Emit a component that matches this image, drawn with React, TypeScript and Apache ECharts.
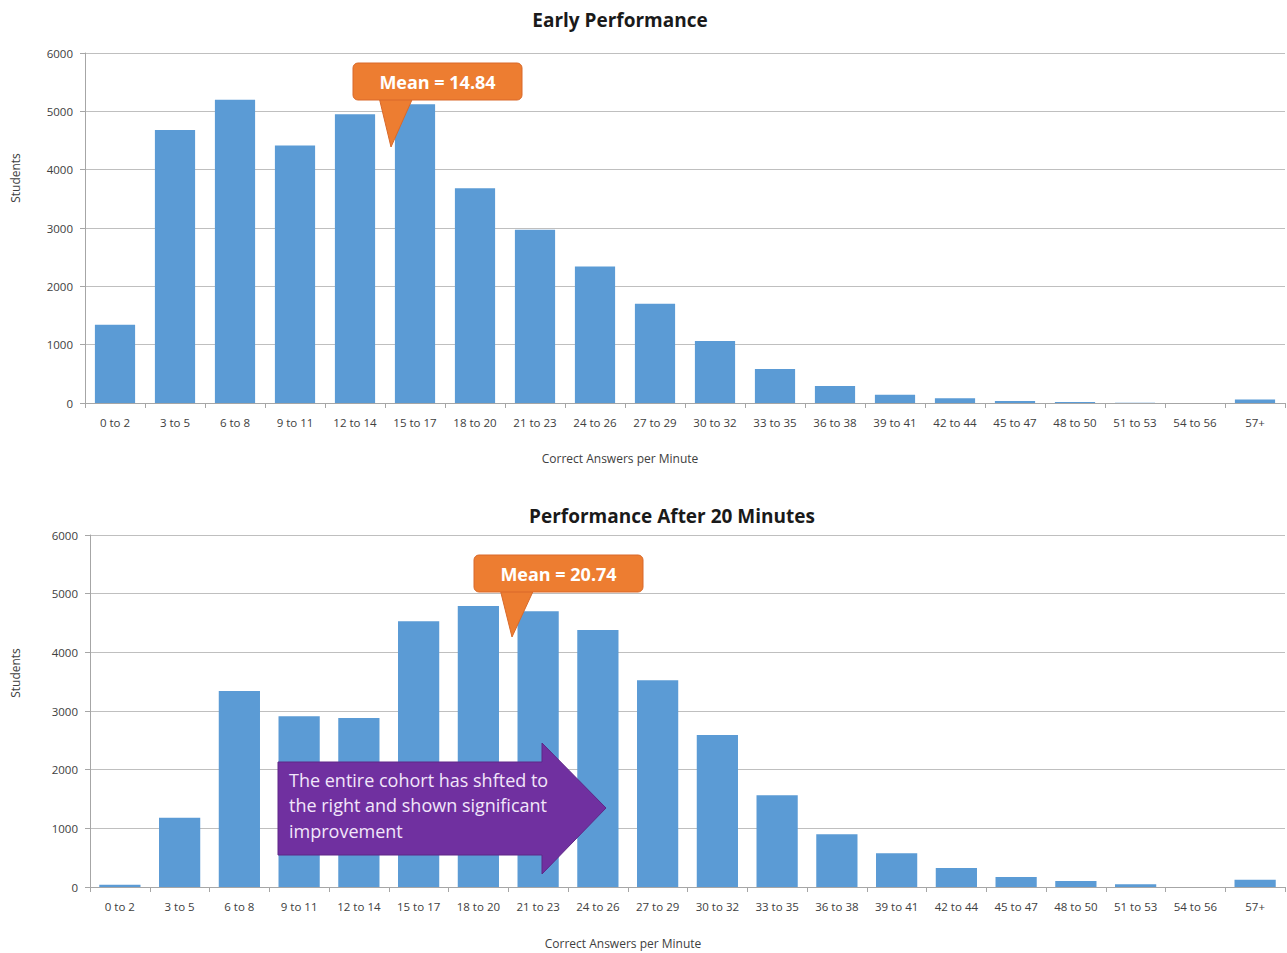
import React, { useEffect, useRef } from "react";
import * as echarts from "echarts";

const categories = ["0 to 2","3 to 5","6 to 8","9 to 11","12 to 14","15 to 17","18 to 20","21 to 23","24 to 26","27 to 29","30 to 32","33 to 35","36 to 38","39 to 41","42 to 44","45 to 47","48 to 50","51 to 53","54 to 56","57+"];
const earlyValues = [1340,4680,5200,4415,4950,5120,3680,2970,2340,1700,1065,585,290,140,80,35,17,5,0,60];
const afterValues = [40,1180,3340,2910,2880,4530,4790,4700,4380,3525,2590,1565,900,575,325,170,102,45,0,125];
const yTicks = [0,1000,2000,3000,4000,5000,6000];
const titles = ["Early Performance","Performance After 20 Minutes"];
const xName = "Correct Answers per Minute";
const yName = "Students";
const meanLabels = ["Mean = 14.84","Mean = 20.74"];
const noteText = "The entire cohort has shfted to\nthe right and shown significant\nimprovement";

const FONT = "'Open Sans', 'Noto Sans', sans-serif";
const BAR = "#5B9BD5";
const ORANGE = "#ED7D31";
const PURPLE = "#7030A0";
const LABEL = "#404040";

export default function App() {
  const ref = useRef<HTMLDivElement>(null);
  useEffect(() => {
    if (!ref.current) return;
    const chart = echarts.init(ref.current, null, { renderer: "svg" });
    const grids = [
      { left: 85, top: 53, right: 2, height: 350 },
      { left: 90, top: 535, right: 2, height: 352 },
    ];
    const xAxis = grids.map((_, i) => ({
      type: "category",
      gridIndex: i,
      data: categories,
      axisLine: { lineStyle: { color: "#A6A6A6" } },
      axisTick: { show: true, alignWithLabel: false, length: 5, lineStyle: { color: "#A6A6A6" } },
      axisLabel: { fontFamily: FONT, fontSize: 11.5, color: LABEL, interval: 0, margin: 13 },
    }));
    const yAxis = grids.map((_, i) => ({
      type: "value",
      gridIndex: i,
      min: 0,
      max: yTicks[yTicks.length - 1],
      interval: 1000,
      axisLine: { show: true, lineStyle: { color: "#A6A6A6" } },
      axisTick: { show: true, length: 5, lineStyle: { color: "#A6A6A6" } },
      axisLabel: { fontFamily: FONT, fontSize: 11.5, color: LABEL, margin: 12, formatter: (v: number) => String(v) },
      splitLine: { lineStyle: { color: "#BFBFBF" } },
    }));
    const callout = (x: number, y: number, tipX: number, tipY: number, text: string) => ({
      type: "group",
      children: [
        {
          type: "polygon",
          shape: { points: [[x + 25, y + 30], [tipX, tipY], [x + 62, y + 30]] },
          style: { fill: ORANGE, stroke: "#D9692A", lineWidth: 1 },
          z: 10,
        },
        {
          type: "rect",
          shape: { x, y, width: 169, height: 37, r: 5 },
          style: { fill: ORANGE, stroke: "#D9692A", lineWidth: 1 },
          z: 11,
        },
        {
          type: "text",
          x: x + 84.5,
          y: y + 18.5,
          style: { text, fill: "#FFFFFF", font: `bold 18px ${FONT}`, align: "center", verticalAlign: "middle" },
          z: 12,
        },
      ],
    });
    const axisText = (x: number, y: number, text: string, rotate = 0) => ({
      type: "text",
      x,
      y,
      rotation: rotate,
      style: { text, fill: LABEL, font: `12px ${FONT}`, align: "center", verticalAlign: "middle" },
    });
    const titleText = (x: number, y: number, text: string) => ({
      type: "text",
      x,
      y,
      style: { text, fill: "#1a1a1a", font: `bold 19px ${FONT}`, align: "center", verticalAlign: "middle" },
    });
    chart.setOption({
      animation: false,
      backgroundColor: "#FFFFFF",
      grid: grids,
      xAxis,
      yAxis,
      series: [
        { type: "bar", xAxisIndex: 0, yAxisIndex: 0, data: earlyValues, barCategoryGap: "33%", itemStyle: { color: BAR } },
        { type: "bar", xAxisIndex: 1, yAxisIndex: 1, data: afterValues, barCategoryGap: "31%", itemStyle: { color: BAR } },
      ],
      graphic: [
        titleText(620, 20, titles[0]),
        titleText(672, 516, titles[1]),
        axisText(620, 458, xName),
        axisText(623, 943, xName),
        axisText(15, 178, yName, Math.PI / 2),
        axisText(15, 673, yName, Math.PI / 2),
        callout(353, 63, 391, 147, meanLabels[0]),
        callout(474, 555, 512, 637, meanLabels[1]),
        {
          type: "polygon",
          shape: { points: [[278, 762], [542, 762], [542, 743], [606, 808], [542, 874], [542, 855], [278, 855]] },
          style: { fill: PURPLE, stroke: "#5E2787", lineWidth: 1 },
          z: 10,
        },
        {
          type: "text",
          x: 289,
          y: 767,
          style: { text: noteText, fill: "#F2E6FA", font: `18px ${FONT}`, lineHeight: 25.5 },
          z: 11,
        },
      ],
    });
    return () => chart.dispose();
  }, []);
  return <div ref={ref} style={{ width: 1287, height: 953, position: "absolute", left: 0, top: 0 }} />;
}
